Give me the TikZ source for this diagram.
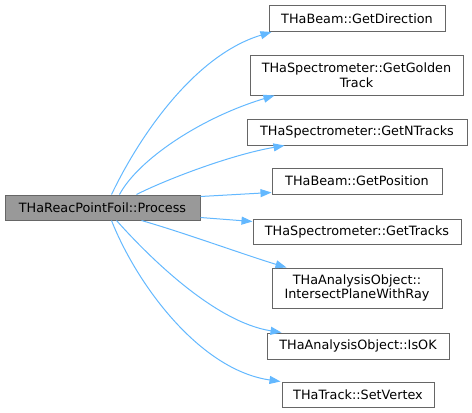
\documentclass[tikz,border=0pt]{standalone}
\usepackage{fontspec}
\setmainfont{DejaVu Sans}
\usetikzlibrary{arrows.meta}
\definecolor{edgeblue}{HTML}{63B8FF}
\definecolor{boxgray}{HTML}{666666}
\definecolor{mainfill}{HTML}{999999}
\tikzset{
  fn/.style={draw=boxgray, line width=1pt, fill=white, inner sep=0pt, align=center,
    font=\fontsize{12.8}{14.5}\selectfont},
  mainfn/.style={fn, fill=mainfill},
  call/.style={draw=edgeblue, line width=1pt, -{Triangle[length=11pt,width=8pt]}, color=edgeblue}
}
\begin{document}
\begin{tikzpicture}[x=1pt,y=-1pt]
\useasboundingbox (0,0) rectangle (472,413);
\node[mainfn, minimum width=195pt, minimum height=25pt] (main) at (102.5,207.5) {THaReacPointFoil::Process};
\node[fn, minimum width=176pt, minimum height=26pt] (t1) at (357,18.5) {THaBeam::GetDirection};
\node[fn, minimum width=213pt, minimum height=40pt] (t2) at (356.5,75) {THaSpectrometer::GetGolden\\Track};
\node[fn, minimum width=220pt, minimum height=26pt] (t3) at (357,132) {THaSpectrometer::GetNTracks};
\node[fn, minimum width=170pt, minimum height=26pt] (t4) at (357,181) {THaBeam::GetPosition};
\node[fn, minimum width=208pt, minimum height=25pt] (t5) at (357,231.5) {THaSpectrometer::GetTracks};
\node[fn, minimum width=170pt, minimum height=40pt] (t6) at (357,288) {THaAnalysisObject::\\IntersectPlaneWithRay};
\node[fn, minimum width=182pt, minimum height=26pt] (t7) at (358,346) {THaAnalysisObject::IsOK};
\node[fn, minimum width=152pt, minimum height=25pt] (t8) at (358,394.5) {THaTrack::SetVertex};

\draw[call] ([xshift=107pt]main.north west) .. controls (140,135) and (195,55) .. ([xshift=3pt]t1.south west);
\draw[call] ([xshift=115pt]main.north west) .. controls (138,160) and (200,118) .. ([xshift=25pt]t2.south west);
\draw[call] ([xshift=132pt]main.north west) .. controls (165,180) and (230,155) .. ([xshift=38pt]t3.south west);
\draw[call] ([yshift=-2pt]main.north east) -- ([yshift=2pt]t4.south west);
\draw[call] ([yshift=3pt]main.south east) -- ([yshift=-3pt]t5.north west);
\draw[call] ([xshift=137pt]main.south west) .. controls (185,233) and (245,255) .. ([xshift=15pt]t6.north west);
\draw[call] ([xshift=112pt]main.south west) .. controls (150,258) and (215,322) .. ([xshift=15pt]t7.north west);
\draw[call] ([xshift=107pt]main.south west) .. controls (137,285) and (200,370) .. ([xshift=-1pt]t8.north west);
\end{tikzpicture}
\end{document}
